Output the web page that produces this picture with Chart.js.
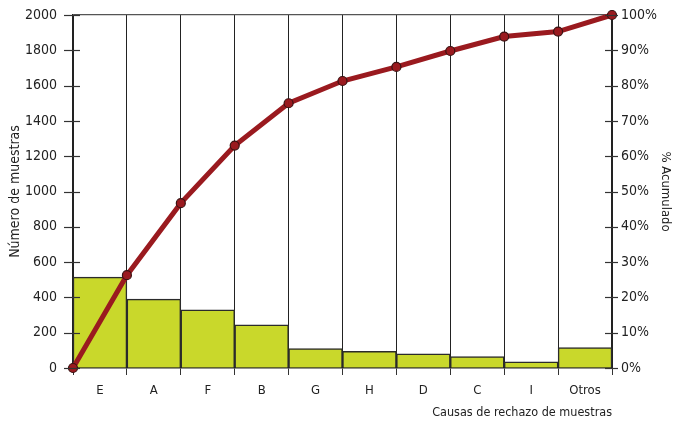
<!DOCTYPE html>
<html>
<head>
<meta charset="utf-8">
<script src="https://cdn.jsdelivr.net/npm/chart.js@4.4.1/dist/chart.umd.min.js"></script>
<style>
  html, body { margin: 0; padding: 0; background: #fff; }
  #wrap { width: 677px; height: 423px; }
</style>
</head>
<body>
<div id="wrap"><canvas id="c" width="677" height="423"></canvas></div>
<script>
// Pareto chart: rejected samples by cause, with cumulative percentage
const causas = ['E', 'A', 'F', 'B', 'G', 'H', 'D', 'C', 'I', 'Otros'];
const muestras = [515, 390, 330, 245, 110, 95, 80, 65, 35, 115];
// cumulative % at each bar boundary (starting at 0 before the first bar)
const acumulado = [0, 26.3, 46.7, 63, 75, 81.3, 85.3, 89.8, 93.9, 95.3, 100];
const ticksMuestras = [0, 200, 400, 600, 800, 1000, 1200, 1400, 1600, 1800, 2000];
const ticksPct = [0, 10, 20, 30, 40, 50, 60, 70, 80, 90, 100];

const FONT = "'DejaVu Sans Condensed', 'Liberation Sans Narrow', sans-serif";
const INK = '#222';

// short tick marks crossing both vertical axes
const crossTicks = {
  id: 'crossTicks',
  afterDraw(chart) {
    const ctx = chart.ctx;
    ctx.save();
    ctx.strokeStyle = '#333';
    ctx.lineWidth = 1.2;
    const y = chart.scales.y, y2 = chart.scales.y2;
    y.ticks.forEach((t, i) => {
      const p = Math.round(y.getPixelForTick(i)) + 0.5;
      ctx.beginPath(); ctx.moveTo(y.right - 9, p); ctx.lineTo(y.right + 7, p); ctx.stroke();
    });
    y2.ticks.forEach((t, i) => {
      const p = Math.round(y2.getPixelForTick(i)) + 0.5;
      ctx.beginPath(); ctx.moveTo(y2.left - 7, p); ctx.lineTo(y2.left + 6, p); ctx.stroke();
    });
    ctx.restore();
  }
};

new Chart(document.getElementById('c'), {
  type: 'bar',
  data: {
    labels: causas,
    datasets: [
      {
        type: 'line',
        label: '% Acumulado',
        data: acumulado.map((v, i) => ({ x: i, y: v })),
        xAxisID: 'xl',
        yAxisID: 'y2',
        borderColor: '#9a1a1f',
        borderWidth: 5,
        pointRadius: 4.5,
        pointBackgroundColor: '#9a1a1f',
        pointBorderColor: '#3a1212',
        pointBorderWidth: 1.2,
        tension: 0,
        clip: false,
        order: 0
      },
      {
        type: 'bar',
        label: 'Número de muestras',
        data: muestras,
        xAxisID: 'x',
        yAxisID: 'y',
        backgroundColor: '#c9d82b',
        borderColor: '#2b2b2b',
        borderWidth: 1.5,
        barPercentage: 1,
        categoryPercentage: 1,
        grouped: false,
        order: 1
      }
    ]
  },
  options: {
    responsive: false,
    animation: false,
    layout: { padding: { top: 15, left: 0, right: 0, bottom: 0 } },
    plugins: { legend: { display: false }, tooltip: { enabled: false } },
    scales: {
      x: {
        type: 'category',
        position: 'bottom',
        offset: true,
        grid: { display: true, offset: true, color: '#222', lineWidth: 1, tickLength: 7, tickColor: '#333' },
        border: { display: true, color: '#222', width: 1.5 },
        ticks: { color: INK, font: { family: FONT, size: 13 }, padding: 8, maxRotation: 0 },
        title: { display: true, text: 'Causas de rechazo de muestras', align: 'end', color: INK,
                 font: { family: FONT, size: 12.5 }, padding: { top: 0, bottom: 3 } },
        afterFit(s) { s.height = 55; }
      },
      xl: {
        type: 'linear',
        display: false,
        offset: false,
        grid: { offset: false },
        min: 0,
        max: 10
      },
      y: {
        type: 'linear',
        position: 'left',
        min: 0,
        max: 2000,
        afterBuildTicks(s) { s.ticks = ticksMuestras.map(v => ({ value: v })); },
        grid: {
          drawTicks: false,
          color: c => (c.tick && c.tick.value === 2000) ? '#555' : 'rgba(0,0,0,0)',
          lineWidth: 1.2
        },
        border: { display: true, color: '#222', width: 1.5 },
        ticks: { color: INK, font: { family: FONT, size: 14 }, padding: 16, callback: v => String(v) },
        title: { display: true, text: 'Número de muestras', color: INK,
                 font: { family: FONT, size: 14 }, padding: { top: 7, bottom: 0 } },
        afterFit(s) { s.width = 73; s.paddingTop = 9; s.paddingBottom = 9; }
      },
      y2: {
        type: 'linear',
        position: 'right',
        min: 0,
        max: 100,
        afterBuildTicks(s) { s.ticks = ticksPct.map(v => ({ value: v })); },
        grid: { drawTicks: false, drawOnChartArea: false },
        border: { display: true, color: '#222', width: 1.5 },
        ticks: { color: INK, font: { family: FONT, size: 14 }, padding: 9, callback: v => v + '%' },
        title: { display: true, text: '% Acumulado', color: INK,
                 font: { family: FONT, size: 13 }, padding: { top: 4, bottom: 0 } },
        afterFit(s) { s.width = 65; s.paddingTop = 9; s.paddingBottom = 9; }
      }
    }
  },
  plugins: [crossTicks]
});
</script>
</body>
</html>
